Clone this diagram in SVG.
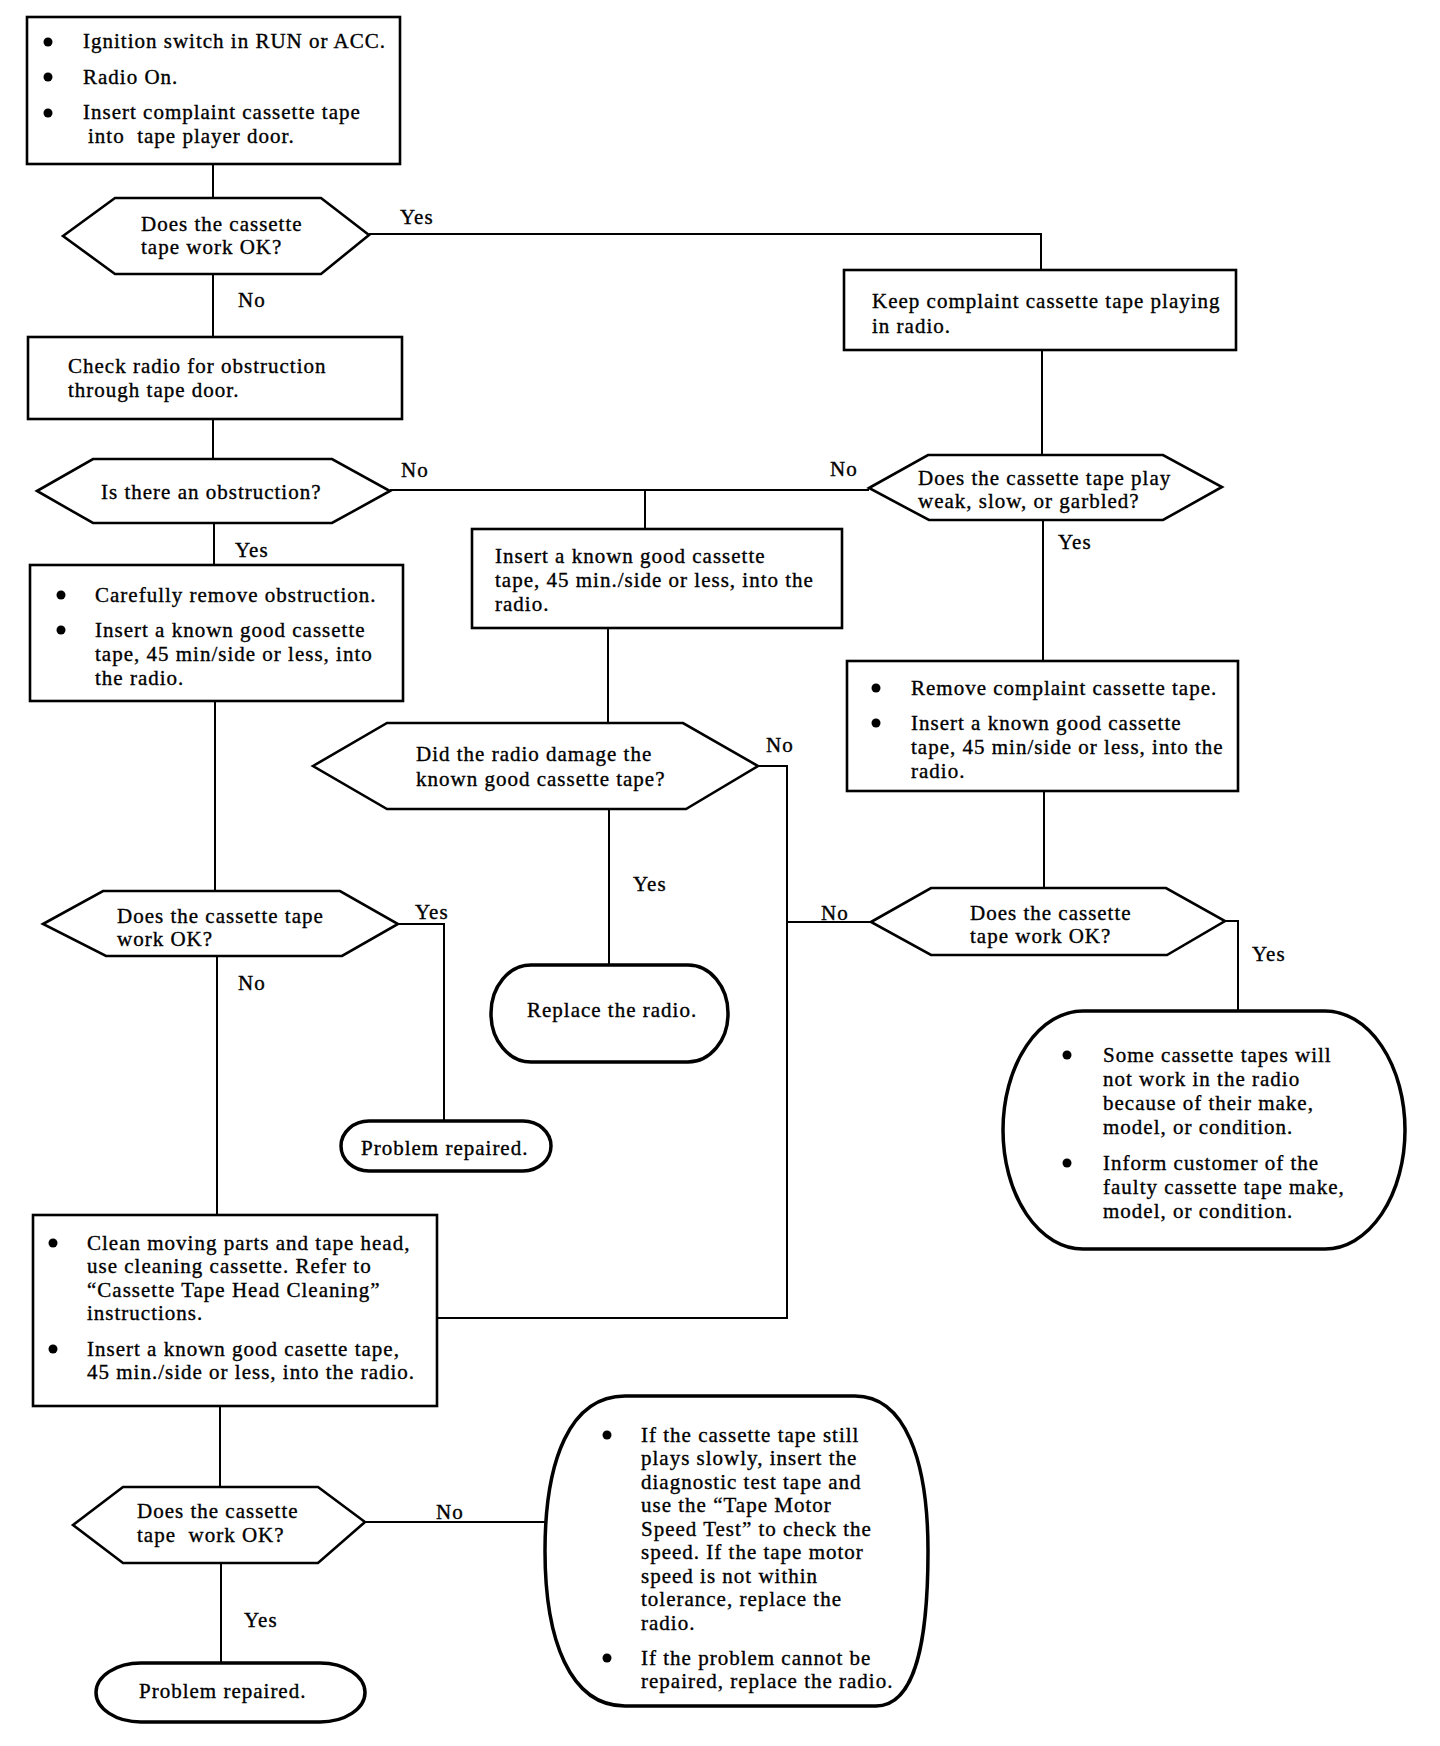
<svg xmlns="http://www.w3.org/2000/svg" width="1440" height="1746" viewBox="0 0 1440 1746">
<style>
.t{font-family:"Liberation Serif","Times New Roman",serif;font-size:21px;letter-spacing:1px;fill:#000;stroke:#000;stroke-width:0.35}
.box{fill:#fff;stroke:#000;stroke-width:2.6}
.dec{fill:#fff;stroke:#000;stroke-width:2.6;stroke-linejoin:miter}
.term{fill:#fff;stroke:#000;stroke-width:3.5}
.ln{fill:none;stroke:#000;stroke-width:2}
.b{fill:#000}
</style>
<rect width="1440" height="1746" fill="#fff"/>
<g id="connectors">
<polyline class="ln" points="213,164 213,198"/>
<polyline class="ln" points="369,234 1041,234 1041,270"/>
<polyline class="ln" points="213,274 213,337"/>
<polyline class="ln" points="213,419 213,459"/>
<polyline class="ln" points="390,490 869,490"/>
<polyline class="ln" points="645,490 645,529"/>
<polyline class="ln" points="214,523 214,565"/>
<polyline class="ln" points="1042,350 1042,455"/>
<polyline class="ln" points="1043,520 1043,661"/>
<polyline class="ln" points="608,628 608,723"/>
<polyline class="ln" points="758,766 787,766 787,1318 437,1318"/>
<polyline class="ln" points="787,922 871,922"/>
<polyline class="ln" points="1044,791 1044,888"/>
<polyline class="ln" points="1225,921 1238,921 1238,1011"/>
<polyline class="ln" points="215,701 215,891"/>
<polyline class="ln" points="398,924 444,924 444,1121"/>
<polyline class="ln" points="609,809 609,965"/>
<polyline class="ln" points="217,956 217,1215"/>
<polyline class="ln" points="220,1406 220,1487"/>
<polyline class="ln" points="365,1522 546,1522"/>
<polyline class="ln" points="221,1564 221,1663"/>
<text class="t" x="400" y="224">Yes</text>
<text class="t" x="238" y="307">No</text>
<text class="t" x="401" y="477">No</text>
<text class="t" x="830" y="476">No</text>
<text class="t" x="235" y="557">Yes</text>
<text class="t" x="1058" y="549">Yes</text>
<text class="t" x="766" y="752">No</text>
<text class="t" x="633" y="891">Yes</text>
<text class="t" x="821" y="920">No</text>
<text class="t" x="1252" y="961">Yes</text>
<text class="t" x="415" y="919">Yes</text>
<text class="t" x="238" y="990">No</text>
<text class="t" x="436" y="1519">No</text>
<text class="t" x="244" y="1627">Yes</text>
</g>
<g id="start">
<rect class="box" x="27" y="17" width="373" height="147"/>
<circle class="b" cx="48" cy="42" r="4.5"/>
<circle class="b" cx="48" cy="77" r="4.5"/>
<circle class="b" cx="48" cy="113" r="4.5"/>
<text class="t" x="83" y="48">Ignition switch in RUN or ACC.</text>
<text class="t" x="83" y="84">Radio On.</text>
<text class="t" x="83" y="119">Insert complaint cassette tape</text>
<text class="t" x="88" y="143" xml:space="preserve">into  tape player door.</text>
</g>
<g id="d1">
<polygon class="dec" points="63,236 115,198 321,198 369,235 321,274 115,274"/>
<text class="t" x="141" y="231">Does the cassette</text>
<text class="t" x="141" y="254">tape work OK?</text>
</g>
<g id="check">
<rect class="box" x="28" y="337" width="374" height="82"/>
<text class="t" x="68" y="373">Check radio for obstruction</text>
<text class="t" x="68" y="397">through tape door.</text>
</g>
<g id="d2">
<polygon class="dec" points="37,491 93,459 332,459 390,491 332,523 93,523"/>
<text class="t" x="101" y="499">Is there an obstruction?</text>
</g>
<g id="remove-obstruction">
<rect class="box" x="30" y="565" width="373" height="136"/>
<circle class="b" cx="61" cy="595" r="4.5"/>
<circle class="b" cx="61" cy="630" r="4.5"/>
<text class="t" x="95" y="602">Carefully remove obstruction.</text>
<text class="t" x="95" y="637">Insert a known good cassette</text>
<text class="t" x="95" y="661">tape, 45 min/side or less, into</text>
<text class="t" x="95" y="685">the radio.</text>
</g>
<g id="insert-known">
<rect class="box" x="472" y="529" width="370" height="99"/>
<text class="t" x="495" y="563">Insert a known good cassette</text>
<text class="t" x="495" y="587">tape, 45 min./side or less, into the</text>
<text class="t" x="495" y="611">radio.</text>
</g>
<g id="keep">
<rect class="box" x="844" y="270" width="392" height="80"/>
<text class="t" x="872" y="308">Keep complaint cassette tape playing</text>
<text class="t" x="872" y="333">in radio.</text>
</g>
<g id="d-weak">
<polygon class="dec" points="869,488 928,455 1163,455 1222,487 1163,520 929,520"/>
<text class="t" x="918" y="485">Does the cassette tape play</text>
<text class="t" x="918" y="508">weak, slow, or garbled?</text>
</g>
<g id="remove-complaint">
<rect class="box" x="847" y="661" width="391" height="130"/>
<circle class="b" cx="876" cy="688" r="4.5"/>
<circle class="b" cx="876" cy="723" r="4.5"/>
<text class="t" x="911" y="695">Remove complaint cassette tape.</text>
<text class="t" x="911" y="730">Insert a known good cassette</text>
<text class="t" x="911" y="754">tape, 45 min/side or less, into the</text>
<text class="t" x="911" y="778">radio.</text>
</g>
<g id="d-damage">
<polygon class="dec" points="313,766 387,723 683,723 758,766 686,809 387,809"/>
<text class="t" x="416" y="761">Did the radio damage the</text>
<text class="t" x="416" y="786">known good cassette tape?</text>
</g>
<g id="d-right">
<polygon class="dec" points="871,922 931,888 1166,888 1225,921 1167,955 931,955"/>
<text class="t" x="970" y="920">Does the cassette</text>
<text class="t" x="970" y="943">tape work OK?</text>
</g>
<g id="d-left">
<polygon class="dec" points="43,924 103,891 340,891 398,924 342,956 106,956"/>
<text class="t" x="117" y="923">Does the cassette tape</text>
<text class="t" x="117" y="946">work OK?</text>
</g>
<g id="replace">
<rect class="term" x="491" y="965" width="237" height="97" rx="40" ry="48"/>
<text class="t" x="527" y="1017">Replace the radio.</text>
</g>
<g id="repaired1">
<rect class="term" x="341" y="1121" width="210" height="50" rx="28" ry="25"/>
<text class="t" x="361" y="1155">Problem repaired.</text>
</g>
<g id="some-tapes">
<rect class="term" x="1003" y="1011" width="402" height="238" rx="80" ry="119"/>
<circle class="b" cx="1067" cy="1055" r="4.5"/>
<circle class="b" cx="1067" cy="1163" r="4.5"/>
<text class="t" x="1103" y="1062">Some cassette tapes will</text>
<text class="t" x="1103" y="1086">not work in the radio</text>
<text class="t" x="1103" y="1110">because of their make,</text>
<text class="t" x="1103" y="1134">model, or condition.</text>
<text class="t" x="1103" y="1170">Inform customer of the</text>
<text class="t" x="1103" y="1194">faulty cassette tape make,</text>
<text class="t" x="1103" y="1218">model, or condition.</text>
</g>
<g id="clean">
<rect class="box" x="33" y="1215" width="404" height="191"/>
<circle class="b" cx="53" cy="1243" r="4.5"/>
<circle class="b" cx="53" cy="1349" r="4.5"/>
<text class="t" x="87" y="1250">Clean moving parts and tape head,</text>
<text class="t" x="87" y="1273">use cleaning cassette. Refer to</text>
<text class="t" x="87" y="1297">“Cassette Tape Head Cleaning”</text>
<text class="t" x="87" y="1320">instructions.</text>
<text class="t" x="87" y="1356">Insert a known good casette tape,</text>
<text class="t" x="87" y="1379">45 min./side or less, into the radio.</text>
</g>
<g id="d-bottom">
<polygon class="dec" points="73,1525 123,1487 318,1487 365,1522 318,1563 123,1563"/>
<text class="t" x="137" y="1518">Does the cassette</text>
<text class="t" x="137" y="1542" xml:space="preserve">tape  work OK?</text>
</g>
<g id="motor-test">
<path class="term" d="M625,1396 L855,1396 C905,1396 928,1460 928,1551 C928,1640 916,1706 876,1706 L625,1706 C570,1706 545,1640 545,1551 C545,1460 570,1396 625,1396 Z"/>
<circle class="b" cx="607" cy="1435" r="4.5"/>
<circle class="b" cx="607" cy="1658" r="4.5"/>
<text class="t" x="641" y="1442">If the cassette tape still</text>
<text class="t" x="641" y="1465">plays slowly, insert the</text>
<text class="t" x="641" y="1489">diagnostic test tape and</text>
<text class="t" x="641" y="1512">use the “Tape Motor</text>
<text class="t" x="641" y="1536">Speed Test” to check the</text>
<text class="t" x="641" y="1559">speed. If the tape motor</text>
<text class="t" x="641" y="1583">speed is not within</text>
<text class="t" x="641" y="1606">tolerance, replace the</text>
<text class="t" x="641" y="1630">radio.</text>
<text class="t" x="641" y="1665">If the problem cannot be</text>
<text class="t" x="641" y="1688">repaired, replace the radio.</text>
</g>
<g id="repaired2">
<rect class="term" x="96" y="1663" width="269" height="59" rx="45" ry="29.5"/>
<text class="t" x="139" y="1698">Problem repaired.</text>
</g>
</svg>
